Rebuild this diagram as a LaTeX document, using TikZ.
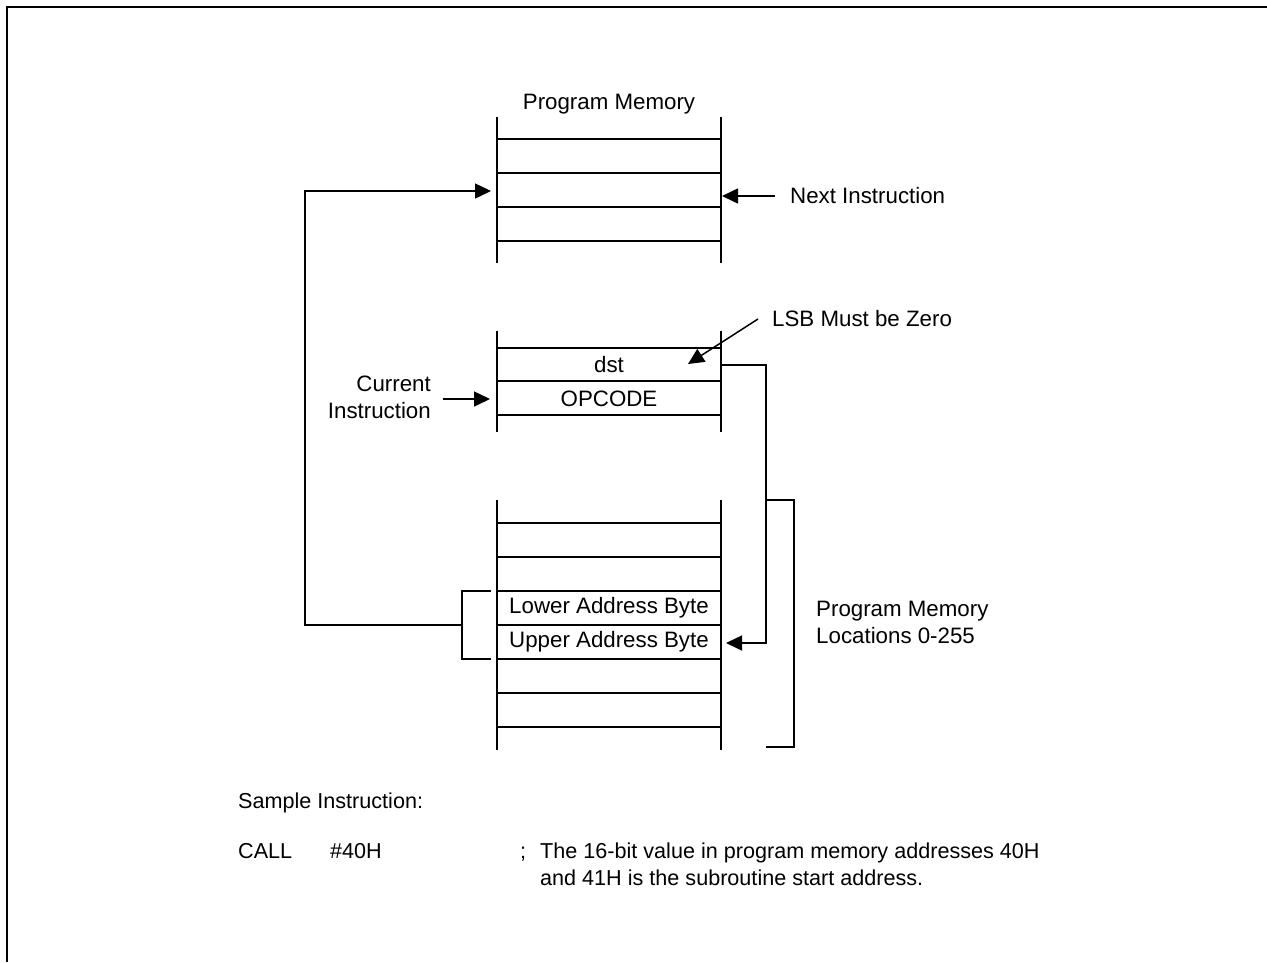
\documentclass[tikz,border=0pt]{standalone}
\usepackage{fontspec}
\setmainfont{Liberation Sans}
\usetikzlibrary{arrows.meta}
\begin{document}
\begin{tikzpicture}[x=1pt,y=-1pt,
  lbl/.style={inner sep=0pt, font=\fontsize{22.3}{27}\selectfont},
  sml/.style={inner sep=0pt, anchor=base west, font=\fontsize{21.6}{27}\selectfont},
  cell/.style={line width=1.4pt},
  conn/.style={line width=1.5pt},
  arr/.style={conn,-{Triangle[length=16pt,width=15pt]}},
  frame/.style={line width=2.6pt}]
\useasboundingbox (0,0) rectangle (1267,962);
\draw[frame] (7,962) -- (7,7) -- (1267,7);

% ---- top block
\foreach \yy in {139,173,207,241} \draw[cell] (497,\yy) -- (721,\yy);
\draw[cell] (497,117) -- (497,263);
\draw[cell] (721,117) -- (721,263);
\node[lbl] (pm) at (609,104) {Program Memory};
\coordinate (toptipL) at (491,191);
\coordinate (toptipR) at (722,196);
\node[lbl, anchor=west] (next) at (790,196) {Next Instruction};
\draw[arr] ([xshift=-15pt]next.west) -- (toptipR);

% ---- middle block
\foreach \yy in {348,381,415} \draw[cell] (497,\yy) -- (721,\yy);
\draw[cell] (497,331) -- (497,432);
\draw[cell] (721,331) -- (721,432);
\node[lbl] (dst) at (609,365) {dst};
\node[lbl] (op) at (609,399) {OPCODE};
\node[lbl, align=right, anchor=east] (cur) at (431,397) {Current\\Instruction};
\coordinate (curtip) at (490,399);
\draw[arr] (443,399) -- (curtip);
\node[lbl, anchor=west] (lsb) at (772,319) {LSB Must be Zero};
\coordinate (lsbtip) at (688,364);
\draw[arr] ([xshift=-14pt]lsb.west) -- (lsbtip);

% ---- bottom block
\foreach \yy in {523,557,591,625,659,693,727} \draw[cell] (497,\yy) -- (721,\yy);
\draw[cell] (497,500) -- (497,750);
\draw[cell] (721,500) -- (721,750);
\node[lbl] (low) at (609,608) {Lower Address Byte};
\node[lbl] (up) at (609,642) {Upper Address Byte};
\coordinate (uptip) at (726,643);

% dst pointer
\coordinate (dstR) at (721,365);
\draw[arr] (dstR) -- (766,365) -- (766,643) -- (uptip);

% range bracket
\coordinate (brT) at (766,500);
\coordinate (brB) at (766,747);
\draw[conn] (brT) -- (794,500) -- (794,747) -- (brB);
\node[lbl, align=left, anchor=west] (loc) at (816,622) {Program Memory\\Locations 0-255};

% address bracket and return path
\coordinate (abT) at (491,591);
\coordinate (abB) at (491,659);
\coordinate (abM) at (462,625);
\draw[conn] (abT) -- (462,591) -- (462,659) -- (abB);
\draw[arr] (abM) -- (305,625) -- (305,191) -- (toptipL);

% ---- sample instruction
\node[sml] (samp) at (238,808) {Sample Instruction:};
\node[sml] (call) at (238,858) {CALL};
\node[sml] (imm) at (330,858) {\#40H};
\node[sml] (semi) at (520,858) {;};
\node[sml] (c1) at (540,858) {The 16-bit value in program memory addresses 40H};
\node[sml] (c2) at (540,885) {and 41H is the subroutine start address.};
\end{tikzpicture}
\end{document}
